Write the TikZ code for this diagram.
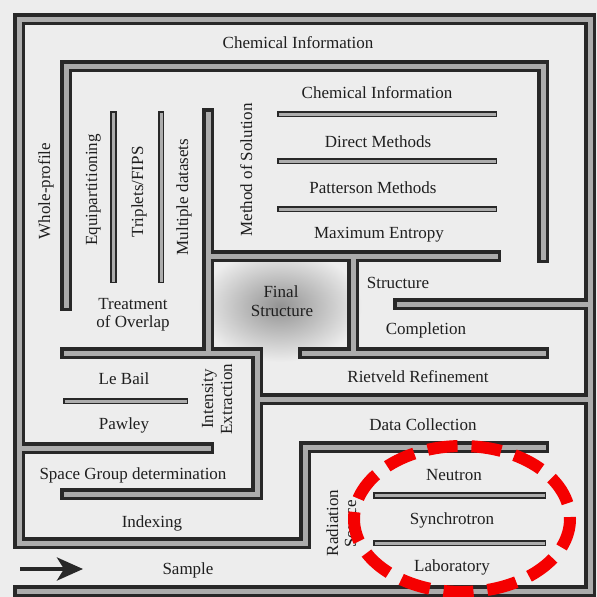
\documentclass[tikz,border=0pt]{standalone}
\usepackage{fontspec}
\setmainfont{Liberation Serif}
\usetikzlibrary{arrows.meta}
\definecolor{pagebg}{RGB}{237,237,237}
\definecolor{walldark}{RGB}{40,40,40}
\definecolor{wallgray}{RGB}{172,172,172}
\definecolor{inkred}{RGB}{245,0,0}
\tikzset{
  lbl/.style={font=\fontsize{17}{20}\selectfont, text=black!88, anchor=base, inner sep=0pt},
  vlbl/.style={lbl, rotate=90},
}
\begin{document}
\begin{tikzpicture}[x=1pt, y=-1pt]
\fill[pagebg] (0,0) rectangle (597,597);
\useasboundingbox (0,0) rectangle (597,597);
\shade[inner color=gray!85, outer color=pagebg] (280,306) ellipse [x radius=82, y radius=56];
\foreach \col/\wid/\thn in {walldark/12.5pt/6.5pt, wallgray/5pt/3pt}{
  \draw[\col, line width=\wid, line cap=rect, line join=miter]
    (543,447) -- (305,447) -- (305,543) -- (19,543) -- (19,19) -- (590,19) -- (590,591) -- (19,591)
    (66,305) -- (66,66) -- (543,66) -- (543,257)
    (208,114) -- (208,353)
    (208,256) -- (495,256)
    (353,256) -- (353,353)
    (66,353) -- (257,353) -- (257,494) -- (66,494)
    (304,353) -- (543,353)
    (399,304) -- (590,304)
    (257,399) -- (590,399)
    (19,448) -- (208,448);
  \draw[\col, line width=\thn, line cap=rect]
    (113.5,114) -- (113.5,280)
    (161,114) -- (161,280)
    (280,114) -- (494,114)
    (280,161) -- (494,161)
    (280,209) -- (494,209)
    (66,401) -- (185,401)
    (376,495.5) -- (543,495.5)
    (376,543) -- (543,543);
}
\node[lbl] (chemouter) at (298,48) {Chemical Information};
\node[lbl] (cheminner) at (377,98) {Chemical Information};
\node[lbl] (direct) at (378,147) {Direct Methods};
\node[lbl] (patterson) at (373,193) {Patterson Methods};
\node[lbl] (maxent) at (379,238) {Maximum Entropy};
\node[vlbl] (wholeprofile) at (50,191) {Whole-profile};
\node[vlbl] (equip) at (97,190) {Equipartitioning};
\node[vlbl] (triplets) at (143,192) {Triplets/FIPS};
\node[vlbl] (multiple) at (188,197) {Multiple datasets};
\node[vlbl] (method) at (252,170) {Method of Solution};
\node[lbl] (treatment) at (133,309) {Treatment};
\node[lbl] (overlap) at (133,327) {of Overlap};
\node[lbl] (final) at (281,297) {Final};
\node[lbl] (finalstruct) at (282,316) {Structure};
\node[lbl] (structure) at (398,288) {Structure};
\node[lbl] (completion) at (426,334) {Completion};
\node[lbl] (rietveld) at (418,382) {Rietveld Refinement};
\node[lbl] (lebail) at (124,384) {Le Bail};
\node[lbl] (pawley) at (124,429) {Pawley};
\node[vlbl] (intensity) at (213,399) {Intensity};
\node[vlbl] (extraction) at (232,399) {Extraction};
\node[lbl] (datacoll) at (423,430) {Data Collection};
\node[lbl] (spacegroup) at (133,479) {Space Group determination};
\node[lbl] (indexing) at (152,527) {Indexing};
\node[lbl] (sample) at (188,574) {Sample};
\node[vlbl] (radiation) at (338,523) {Radiation};
\node[vlbl] (source) at (356,524) {Source};
\node[lbl] (neutron) at (454,480) {Neutron};
\node[lbl] (synchrotron) at (452,524) {Synchrotron};
\node[lbl] (laboratory) at (452,571) {Laboratory};
\coordinate (arrowtail) at (20,569);
\coordinate (arrowtip) at (83,569);
\draw[walldark, line width=4pt, -{Stealth[length=26pt, width=23pt, inset=7pt]}] (arrowtail) -- (arrowtip);
\draw[inkred, line width=12pt, dash pattern=on 30pt off 14pt] (462,519) ellipse [x radius=108, y radius=73];
\end{tikzpicture}
\end{document}
